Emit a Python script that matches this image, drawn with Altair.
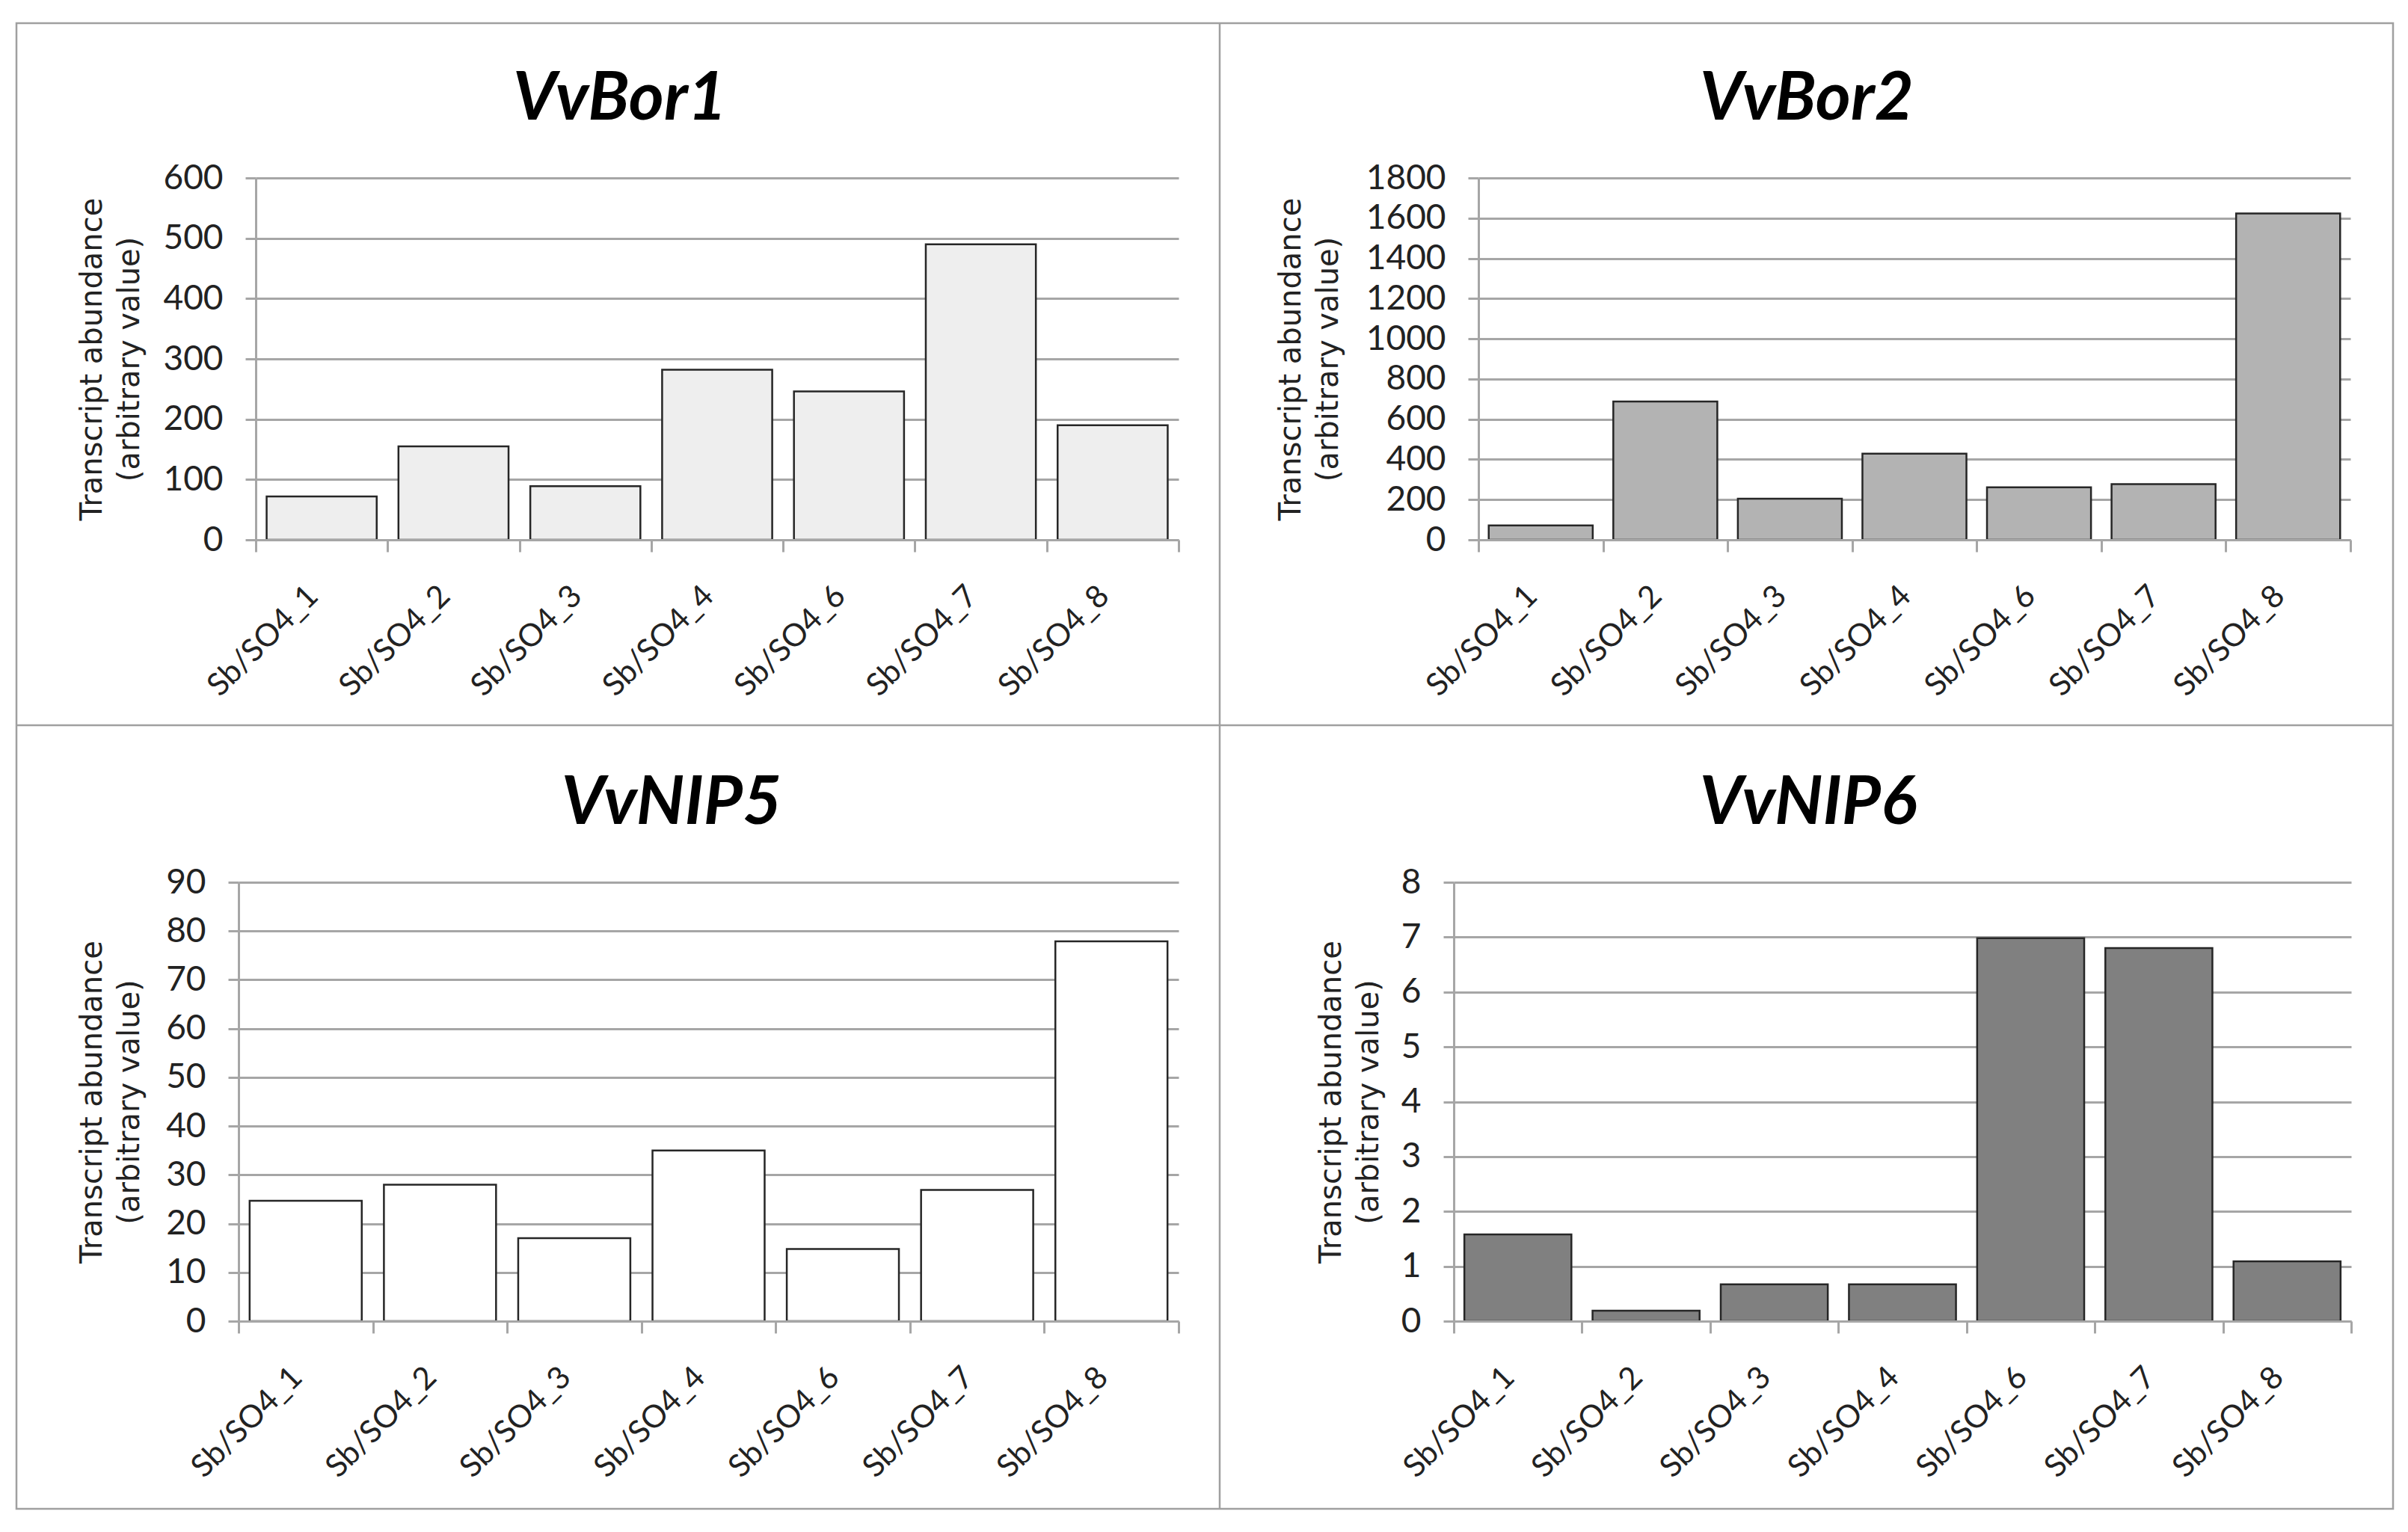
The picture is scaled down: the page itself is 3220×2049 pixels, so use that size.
import altair as alt
import pandas as pd

# ---------------- data ----------------
samples = ["Sb/SO4_1", "Sb/SO4_2", "Sb/SO4_3", "Sb/SO4_4", "Sb/SO4_6", "Sb/SO4_7", "Sb/SO4_8"]
vvbor1 = [72, 155, 89, 282, 246, 490, 190]
vvbor2 = [72, 688, 205, 429, 261, 277, 1623]
vvnip5 = [24.7, 28.0, 17.0, 35.0, 14.8, 26.9, 77.9]
vvnip6 = [1.58, 0.19, 0.67, 0.67, 6.98, 6.80, 1.09]

titles = ["VvBor1", "VvBor2", "VvNIP5", "VvNIP6"]
ticks_bor1 = [0, 100, 200, 300, 400, 500, 600]
ticks_bor2 = [0, 200, 400, 600, 800, 1000, 1200, 1400, 1600, 1800]
ticks_nip5 = [0, 10, 20, 30, 40, 50, 60, 70, 80, 90]
ticks_nip6 = [0, 1, 2, 3, 4, 5, 6, 7, 8]
y_title = ["Transcript abundance", "(arbitrary value)"]

# ---------------- styles ----------------
GRID = "#a6a6a6"
TEXT = "#222222"
BAR_STROKE = "#262626"
fills = ["#eeeeee", "#b3b3b3", "#ffffff", "#808080"]

COL_W = [1257, 1200]
ROW_H = [484, 587]

one = alt.Data(values=[{}])


def panel(title, values, ticks, fill, width, height, x_range, axis_offset,
          title_x, head_x, extra=None):
    df = pd.DataFrame({"sample": samples, "value": values})
    bars = alt.Chart(df).mark_bar(
        fill=fill, stroke=BAR_STROKE, strokeWidth=2.5,
        width=alt.RelativeBandSize(0.835),
    ).encode(
        x=alt.X("sample:N", sort=samples,
                scale=alt.Scale(range=x_range, paddingInner=0, paddingOuter=0),
                axis=alt.Axis(
                    title=None, grid=False, domainColor=GRID, domainWidth=3,
                    tickColor=GRID, tickWidth=3, tickSize=16, tickBand="extent",
                    labelAngle=315, labelAlign="right", labelBaseline="middle",
                    labelPadding=52, labelOffset=-12, labelFont="Lato",
                    labelFontSize=42, labelColor=TEXT, labelLimit=400,
                    labelOverlap=False, zindex=1)),
        y=alt.Y("value:Q",
                scale=alt.Scale(domain=[ticks[0], ticks[-1]], nice=False),
                axis=alt.Axis(
                    values=ticks, format="d", grid=True, gridColor=GRID,
                    gridWidth=3, domainColor=GRID, domainWidth=3,
                    tickColor=GRID, tickWidth=3, tickSize=14,
                    labelFont="Lato", labelFontSize=46, labelColor=TEXT,
                    labelPadding=30, offset=axis_offset,
                    title=y_title, titleFont="DejaVu Sans", titleFontSize=40,
                    titleFontWeight="normal", titleColor=TEXT, titleAngle=270,
                    titleAlign="center", titleBaseline="middle",
                    titleLineHeight=50, titleX=title_x, titleY=height / 2,
                    zindex=0)),
    )
    head = alt.Chart(one).mark_text(
        text=title, font="Lato", fontSize=90, fontWeight="bold",
        fontStyle="italic", color="black", align="center",
        baseline="alphabetic",
    ).encode(x=alt.value(head_x), y=alt.value(-78))
    layers = ([] if extra is None else extra) + [bars, head]
    return alt.layer(*layers).properties(width=width, height=height)


# panel frame lines (decoration), drawn relative to the first panel
frame = [
    alt.Chart(one).mark_rect(filled=False, stroke="#a0a0a0", strokeWidth=2.5).encode(
        x=alt.value(-297), x2=alt.value(2881), y=alt.value(-207), y2=alt.value(1780)),
    alt.Chart(one).mark_rule(stroke="#a0a0a0", strokeWidth=2.5).encode(
        x=alt.value(1312), y=alt.value(-207), y2=alt.value(1780)),
    alt.Chart(one).mark_rule(stroke="#a0a0a0", strokeWidth=2.5).encode(
        x=alt.value(-297), x2=alt.value(2881), y=alt.value(732)),
]

p1 = panel(titles[0], vvbor1, ticks_bor1, fills[0], COL_W[0], ROW_H[0],
           [23, COL_W[0]], -23, -219, 510, extra=frame)
p2 = panel(titles[1], vvbor2, ticks_bor2, fills[1], COL_W[1], ROW_H[0],
           [33, 1199], -33, -251, 472)
p3 = panel(titles[2], vvnip5, ticks_nip5, fills[2], COL_W[0], ROW_H[1],
           [0, COL_W[0]], 0, -196, 579)
p4 = panel(titles[3], vvnip6, ticks_nip6, fills[3], COL_W[1], ROW_H[1],
           [0, COL_W[1]], 0, -164, 474)

chart = alt.concat(
    p1, p2, p3, p4, columns=2, spacing={"row": 458, "column": 368}, bounds="flush"
).properties(
    padding={"left": 12, "top": 21, "right": 5, "bottom": 5},
    background="white",
).configure_view(stroke=None)

chart.save("out.html", embed_options={"renderer": "svg", "actions": False})
